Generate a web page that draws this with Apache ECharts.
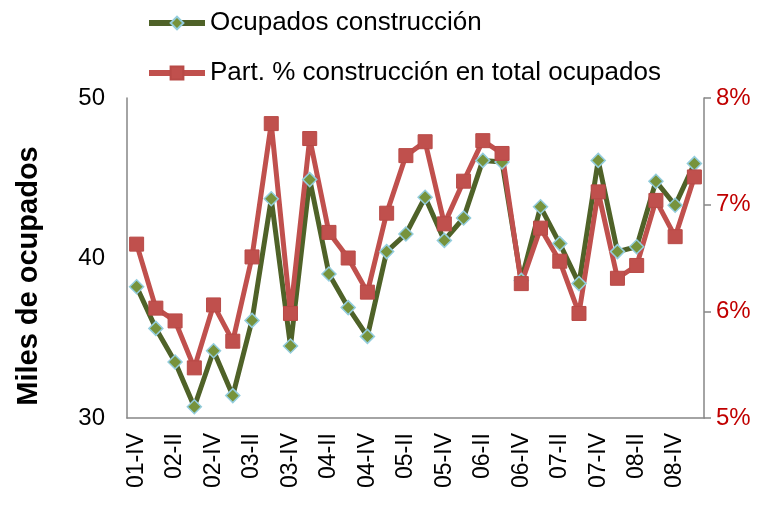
<!DOCTYPE html>
<html>
<head>
<meta charset="utf-8">
<script src="https://cdn.jsdelivr.net/npm/echarts@6/dist/echarts.min.js"></script>
<style>
  html, body { margin: 0; padding: 0; background: #fff; }
  #chart { width: 768px; height: 505px; }
</style>
</head>
<body>
<div id="chart"></div>
<script>
// quarters 01-IV .. 09-I
var categories = ['01-IV',
  '02-I', '02-II', '02-III', '02-IV',
  '03-I', '03-II', '03-III', '03-IV',
  '04-I', '04-II', '04-III', '04-IV',
  '05-I', '05-II', '05-III', '05-IV',
  '06-I', '06-II', '06-III', '06-IV',
  '07-I', '07-II', '07-III', '07-IV',
  '08-I', '08-II', '08-III', '08-IV',
  '09-I'];

// thousands employed in construction
var ocupados = [38.2, 35.6, 33.5, 30.7, 34.2, 31.4, 36.1, 43.7, 34.5, 44.9,
  39.0, 36.9, 35.1, 40.4, 41.5, 43.8, 41.1, 42.5, 46.1, 46.0,
  38.6, 43.2, 40.9, 38.4, 46.1, 40.4, 40.7, 44.8, 43.3, 45.9];

// share of construction in total employment, %
var participacion = [6.63, 6.03, 5.91, 5.47, 6.06, 5.72, 6.51, 7.76, 5.98, 7.62,
  6.74, 6.50, 6.18, 6.92, 7.46, 7.59, 6.82, 7.22, 7.60, 7.48,
  6.26, 6.78, 6.47, 5.98, 7.12, 6.31, 6.43, 7.04, 6.70, 7.26];

var font = '"Liberation Sans", Arial, sans-serif';
var axisGrey = '#868686';
var green = '#4F6228', greenFill = '#77933C', greenEdge = '#93CDDD';
var red = '#C0504D';

var chart = echarts.init(document.getElementById('chart'), null, { renderer: 'canvas' });

chart.setOption({
  animation: false,
  legend: {
    orient: 'vertical',
    left: 141,
    top: 4,
    itemWidth: 56,
    itemHeight: 16,
    itemGap: 22,
    textStyle: { fontFamily: font, fontSize: 26, color: '#000', lineHeight: 28 },
    data: [
      { name: 'Ocupados construcción', lineStyle: { width: 6, color: green } },
      { name: 'Part. % construcción en total ocupados', lineStyle: { width: 6, color: red } }
    ]
  },
  grid: { left: 127, right: 64, top: 98, bottom: 87 },
  xAxis: {
    type: 'category',
    data: categories,
    boundaryGap: true,
    axisLine: { lineStyle: { color: axisGrey, width: 1.5 } },
    axisTick: { show: false },
    axisLabel: {
      interval: 1,
      rotate: 90,
      margin: 15,
      fontFamily: font,
      fontSize: 23,
      color: '#000'
    }
  },
  yAxis: [
    {
      type: 'value',
      min: 30,
      max: 50,
      interval: 10,
      name: 'Miles de ocupados',
      nameLocation: 'middle',
      nameGap: 84,
      nameTextStyle: {
        fontFamily: font, fontSize: 29, fontWeight: 'bold', color: '#000',
        padding: [0, 36, 0, 0]
      },
      axisLine: { show: true, lineStyle: { color: axisGrey, width: 1.5 } },
      axisTick: { show: false },
      splitLine: { show: false },
      axisLabel: { fontFamily: font, fontSize: 24, color: '#000', margin: 22 }
    },
    {
      type: 'value',
      min: 5,
      max: 8,
      interval: 1,
      position: 'right',
      axisLine: { show: true, lineStyle: { color: axisGrey, width: 1.5 } },
      axisTick: { show: true, length: 7, lineStyle: { color: axisGrey, width: 1.5 } },
      splitLine: { show: false },
      axisLabel: {
        fontFamily: font, fontSize: 24, color: '#C00000', margin: 12,
        formatter: '{value}%'
      }
    }
  ],
  series: [
    {
      name: 'Ocupados construcción',
      type: 'line',
      yAxisIndex: 0,
      data: ocupados,
      showAllSymbol: true,
      symbol: 'diamond',
      symbolSize: 14,
      lineStyle: { color: green, width: 5 },
      itemStyle: { color: greenFill, borderColor: greenEdge, borderWidth: 1.5 }
    },
    {
      name: 'Part. % construcción en total ocupados',
      type: 'line',
      yAxisIndex: 1,
      data: participacion,
      showAllSymbol: true,
      symbol: 'rect',
      symbolSize: 14,
      lineStyle: { color: red, width: 5 },
      itemStyle: { color: red, borderColor: '#B84A47', borderWidth: 1 }
    }
  ]
});

window.addEventListener('resize', function() { chart.resize(); });
</script>
</body>
</html>
